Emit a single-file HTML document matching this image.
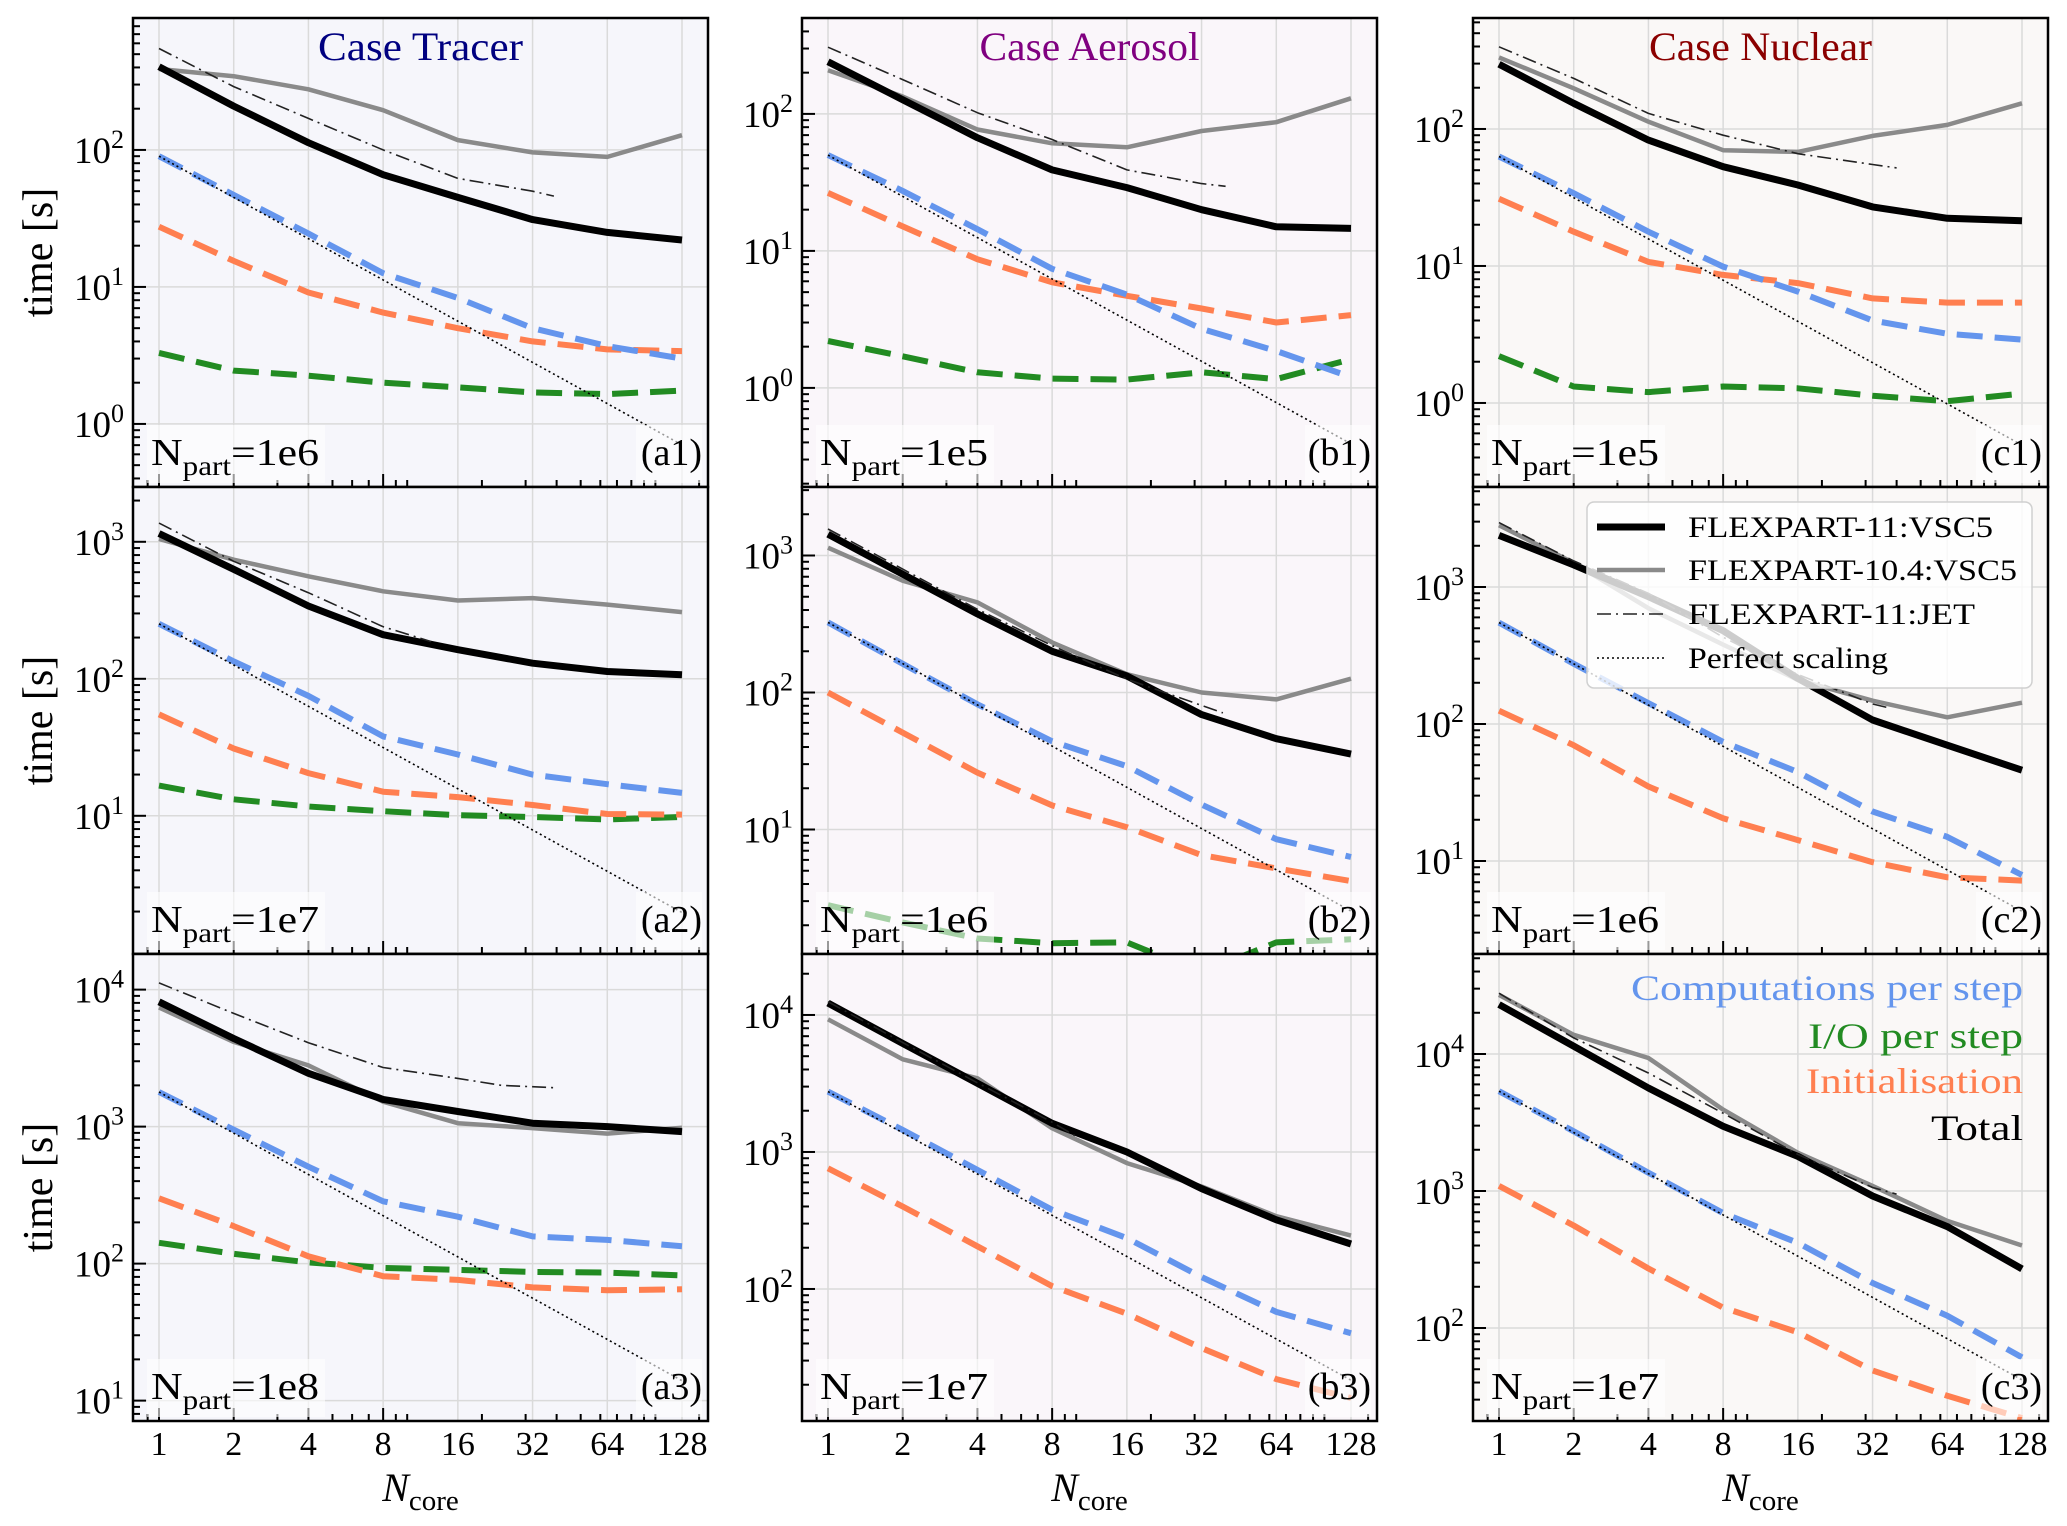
<!DOCTYPE html>
<html><head><meta charset="utf-8"><title>FLEXPART scaling</title>
<style>
html,body{margin:0;padding:0;background:#fff;}
svg{display:block;font-family:"Liberation Serif","DejaVu Serif",serif;}
</style></head>
<body>
<svg id="fig" width="2067" height="1526" viewBox="0 0 2067 1526" xmlns="http://www.w3.org/2000/svg"></svg>
<script>
// ---------- data ----------
const cores=[1,2,4,8,16,32,64,128];
const xTickLabels=["1","2","4","8","16","32","64","128"];
// a1 Tracer 1e6
const a1Total=[405,209,113,66,45,31,25,22];
const a1V104=[390,345,277,195,118,96,89,128];
const a1JetCores=[1,2,4,8,16,32,39];
const a1Jet=[550,290,170,100,62,50,46];
const a1Comp=[90,47,24.5,12.6,8.3,5.0,3.7,3.0];
const a1IO=[3.3,2.45,2.25,2.0,1.85,1.7,1.65,1.75];
const a1Init=[27.5,15.5,9.1,6.5,5.0,4.0,3.5,3.4];
// b1 Aerosol 1e5
const b1Total=[240,127,67,39,29,20,15,14.6];
const b1V104=[208,134,77,61,57,75,87,130];
const b1JetCores=[1,2,4,8,16,32,40];
const b1Jet=[307,178,102,65,39,31,29.6];
const b1Comp=[50,27.4,14.4,7.4,4.8,2.7,1.86,1.2];
const b1IO=[2.2,1.7,1.3,1.17,1.15,1.3,1.16,1.62];
const b1Init=[26.5,15.1,8.7,5.9,4.7,3.8,3.0,3.4];
// c1 Nuclear 1e5
const c1Total=[297,154,83,53,39,27,22.3,21.4];
const c1V104=[333,198,113,70,68,89,107,154];
const c1JetCores=[1,2,4,8,16,32,40];
const c1Jet=[398,234,130,90,66,55,52];
const c1Comp=[63,34,17.8,9.9,6.5,4.0,3.2,2.9];
const c1IO=[2.2,1.32,1.2,1.32,1.28,1.13,1.03,1.17];
const c1Init=[31,17.8,10.7,8.6,7.5,5.8,5.4,5.4];
// a2 Tracer 1e7
const a2Total=[1150,630,340,210,163,130,113,107];
const a2V104=[1050,740,560,435,373,388,348,307];
const a2JetCores=[1,2,4,8,12.5];
const a2Jet=[1370,720,425,240,187];
const a2Comp=[252,134,75,38,28,20,17,14.7];
const a2IO=[16.6,13.2,11.7,10.8,10.1,9.8,9.4,9.8];
const a2Init=[55,31,20.5,15,13.7,12,10.3,10.2];
// b2 Aerosol 1e6
const b2Total=[1430,730,375,200,132,69,46,35.5];
const b2V104=[1140,655,455,232,136,100,89,126];
const b2JetCores=[1,2,4,8,16,39];
const b2Jet=[1560,795,405,220,125,71];
const b2Comp=[325,162,82,44,29,15.2,8.5,6.3];
const b2IO=[2.8,2.1,1.6,1.48,1.5,0.9,1.5,1.58];
const b2Init=[100,51,26,15,10.4,6.5,5.2,4.2];
// c2 Nuclear 1e6
const c2Total=[2380,1450,850,480,215,107,70,46];
const c2V104=[2820,1500,700,380,210,148,112,143];
const c2JetCores=[1,2,4,8,16,32,38];
const c2Jet=[2950,1550,900,430,230,140,130];
const c2Comp=[550,275,142,74,44.6,23,15,7.9];
const c2IO=[1.6,1.2,1.1,1.1,1.0,1.0,0.9,0.9];
const c2Init=[125,70,35,20.5,14.2,9.8,7.6,7.2];
// a3 Tracer 1e8
const a3Total=[8150,4400,2450,1580,1290,1060,1000,920];
const a3V104=[7400,4150,2800,1520,1060,975,890,980];
const a3JetCores=[1,2,4,8,16,24,40];
const a3Jet=[11200,6700,4100,2700,2250,2000,1920];
const a3Comp=[1790,950,510,285,220,158,149,134];
const a3IO=[142,118,102,93,90,87,86,82];
const a3Init=[300,188,113,81,76,67,64,65];
// b3 Aerosol 1e7
const b3Total=[12200,6200,3170,1620,1000,540,320,213];
const b3V104=[9300,4750,3450,1490,830,560,340,245];
const b3JetCores=[1,2,4,8,10];
const b3Jet=[12500,6300,3200,1650,1300];
const b3Comp=[2760,1450,740,378,235,122,68,47.5];
const b3IO=[5,4,3.5,3,3,3,3,3];
const b3Init=[760,400,205,105,66,37,22,16];
// c3 Nuclear 1e7
const c3Total=[23000,11400,5650,2970,1790,920,550,270];
const c3V104=[27000,13800,9350,3930,1900,1090,605,400];
const c3JetCores=[1,2,4,8,16,32,40];
const c3Jet=[27800,13100,7270,3700,1850,1060,950];
const c3Comp=[5350,2730,1360,690,418,213,123,61];
const c3IO=[8,7,6,6,6,6,6,6];
const c3Init=[1090,560,272,141,93,49,32,22];

// ---------- layout ----------
const NS="http://www.w3.org/2000/svg";
const svg=document.getElementById('fig');
const colLeft=[133,802,1473], panelW=575, padX=26;
const rowTop=[18,487,954], rowBot=[487,954,1421];
const DEC=137;
const bgs=["#f6f6fb","#faf6fa","#faf8f7"];
const panels=[
 {id:'a1',c:0,r:0,lt:2.963,T:a1Total,V:a1V104,JX:a1JetCores,J:a1Jet,C:a1Comp,IO:a1IO,I:a1Init,np:'1e6'},
 {id:'b1',c:1,r:0,lt:2.70,T:b1Total,V:b1V104,JX:b1JetCores,J:b1Jet,C:b1Comp,IO:b1IO,I:b1Init,np:'1e5'},
 {id:'c1',c:2,r:0,lt:2.81,T:c1Total,V:c1V104,JX:c1JetCores,J:c1Jet,C:c1Comp,IO:c1IO,I:c1Init,np:'1e5'},
 {id:'a2',c:0,r:1,lt:3.40,T:a2Total,V:a2V104,JX:a2JetCores,J:a2Jet,C:a2Comp,IO:a2IO,I:a2Init,np:'1e7'},
 {id:'b2',c:1,r:1,lt:3.50,T:b2Total,V:b2V104,JX:b2JetCores,J:b2Jet,C:b2Comp,IO:b2IO,I:b2Init,np:'1e6'},
 {id:'c2',c:2,r:1,lt:3.73,T:c2Total,V:c2V104,JX:c2JetCores,J:c2Jet,C:c2Comp,IO:c2IO,I:c2Init,np:'1e6'},
 {id:'a3',c:0,r:2,lt:4.26,T:a3Total,V:a3V104,JX:a3JetCores,J:a3Jet,C:a3Comp,IO:a3IO,I:a3Init,np:'1e8'},
 {id:'b3',c:1,r:2,lt:4.445,T:b3Total,V:b3V104,JX:b3JetCores,J:b3Jet,C:b3Comp,IO:b3IO,I:b3Init,np:'1e7'},
 {id:'c3',c:2,r:2,lt:4.73,T:c3Total,V:c3V104,JX:c3JetCores,J:c3Jet,C:c3Comp,IO:c3IO,I:c3Init,np:'1e7'}
];
const titles=[["Case Tracer","#000080",205],["Case Aerosol","#800080",220],["Case Nuclear","#8b0000",223]];

function mk(tag,attrs,parent){const e=document.createElementNS(NS,tag);for(const k in attrs)e.setAttribute(k,attrs[k]);(parent||svg).appendChild(e);return e;}

const defs=mk('defs',{});

panels.forEach(p=>{
  const L=colLeft[p.c], R=L+panelW, T=rowTop[p.r], B=rowBot[p.r];
  const ppo=(panelW-2*padX)/7;
  const xs=v=>L+padX+Math.log2(v)*ppo;
  const ys=v=>T+(p.lt-Math.log10(v))*DEC;
  const lb=p.lt-(B-T)/DEC;
  const g=mk('g',{});
  
  
  const bg=mk('rect',{x:L,y:T,width:panelW,height:B-T,fill:bgs[p.c]},g);
  
  
  const cp=mk('clipPath',{id:'clip-'+p.id},defs);
  mk('rect',{x:L,y:T,width:panelW,height:B-T},cp);
  cores.forEach(c=>{const l=mk('line',{x1:xs(c),x2:xs(c),y1:T,y2:B,stroke:'#dadada','stroke-width':1.5},g);
    
    });
  for(let d=Math.ceil(lb);d<=Math.floor(p.lt);d++){
    const yy=ys(Math.pow(10,d));
    const l=mk('line',{x1:L,x2:R,y1:yy,y2:yy,stroke:'#dadada','stroke-width':1.5},g);
    
    
  }
  const sg=mk('g',{'clip-path':'url(#clip-'+p.id+')'},g);
  function line(xv,yv,st,name){
    const pts=xv.map((x,i)=>xs(x).toFixed(1)+','+ys(yv[i]).toFixed(1)).join(' ');
    const pl=mk('polyline',Object.assign({points:pts,fill:'none','stroke-linejoin':'round'},st),sg);
    
    
  }
  const perfect=cores.map(c=>p.C[0]/c);
  line(cores,p.IO,{stroke:'#228b22','stroke-width':6,'stroke-dasharray':'26 12'},'io-per-step-line');
  line(cores,p.I,{stroke:'#ff7f50','stroke-width':6,'stroke-dasharray':'26 12'},'initialisation-line');
  line(cores,p.C,{stroke:'#6495ed','stroke-width':6,'stroke-dasharray':'26 12'},'computation-line');
  line(cores,perfect,{stroke:'#000','stroke-width':1.6,'stroke-dasharray':'2 3'},'perfect-scaling-line');
  line(cores,p.V,{stroke:'#8a8a8a','stroke-width':4.5},'flexpart-10.4-vsc5-line');
  line(cores,p.T,{stroke:'#000','stroke-width':7},'flexpart-11-vsc5-line');
  line(p.JX,p.J,{stroke:'#222','stroke-width':1.6,'stroke-dasharray':'14 5 2 5'},'flexpart-11-jet-line');
  const xt=[0.8,0.9,1,2,3,4,5,6,7,8,9,10,20,30,40,50,60,70,80,90,100,150];
  xt.forEach(v=>{const xx=xs(v); if(xx<L+2||xx>R-2)return;
    const major=cores.indexOf(v)>=0;
    const t=mk('line',{x1:xx,x2:xx,y1:B,y2:B-(major?13:7),stroke:'#000','stroke-width':2},g);
    
    });
  for(let d=Math.floor(lb);d<=Math.ceil(p.lt);d++){
    for(let m=1;m<10;m++){
      const v=m*Math.pow(10,d), yy=ys(v);
      if(yy<T+2||yy>B-2)continue;
      const t=mk('line',{x1:L,x2:L+(m===1?13:7),y1:yy,y2:yy,stroke:'#000','stroke-width':2},g);
      
      
      if(m===1){
        const tx=mk('text',{x:L-9,y:yy+13,'text-anchor':'end','font-size':37,fill:'#000'},g);
        tx.innerHTML='10<tspan dy="-15" font-size="26">'+d+'</tspan>';
        
        
      }
    }
  }
  const fr=mk('rect',{x:L,y:T,width:panelW,height:B-T,fill:'none',stroke:'#000','stroke-width':2.5},g);
  
  
  const nbg=mk('rect',{x:L+14,y:B-62,width:178,height:58,fill:'#fff','fill-opacity':0.6},g);
  
  
  const nt=mk('text',{x:L+18,y:B-22,'font-size':38,fill:'#000',textLength:168,lengthAdjust:'spacingAndGlyphs'},g);
  nt.innerHTML='N<tspan dy="10" font-size="27">part</tspan><tspan dy="-10">=</tspan>'+p.np;
  
  
  const pbg=mk('rect',{x:R-72,y:B-62,width:66,height:58,fill:'#fff','fill-opacity':0.6},g);
  
  
  const pt=mk('text',{x:R-6,y:B-22,'text-anchor':'end','font-size':38,fill:'#000'},g);
  pt.textContent='('+p.id+')';
  
  
  if(p.r===0){
    const tt=mk('text',{x:(L+R)/2,y:60,'text-anchor':'middle','font-size':40,fill:titles[p.c][1],textLength:titles[p.c][2],lengthAdjust:'spacingAndGlyphs'},g);
    tt.textContent=titles[p.c][0];
    
    
  }
  if(p.c===0){
    const yl=mk('text',{x:0,y:0,'text-anchor':'middle','font-size':42,fill:'#000',transform:'translate(52,'+((T+B)/2)+') rotate(-90)'},g);
    yl.textContent='time [s]';
    
    
  }
  if(p.r===2){
    cores.forEach((c,i)=>{const t=mk('text',{x:xs(c),y:1455,'text-anchor':'middle','font-size':34,fill:'#000'},g);
      t.textContent=xTickLabels[i];
      
      });
    const xl=mk('text',{x:(L+R)/2,y:1501,'text-anchor':'middle','font-size':40,fill:'#000'},g);
    xl.innerHTML='<tspan font-style="italic">N</tspan><tspan dy="9" font-size="29">core</tspan>';
    
    
  }
});

// legend in c2
const lg=mk('g',{});


mk('rect',{x:1587,y:502,width:445,height:186,rx:7,fill:'#fff','fill-opacity':0.8,stroke:'#d0d0d0','stroke-width':1.5},lg);
const legItems=[["FLEXPART-11:VSC5",{stroke:'#000','stroke-width':7},305],["FLEXPART-10.4:VSC5",{stroke:'#8a8a8a','stroke-width':4.5},329],["FLEXPART-11:JET",{stroke:'#222','stroke-width':1.6,'stroke-dasharray':'14 5 2 5'},287],["Perfect scaling",{stroke:'#000','stroke-width':1.6,'stroke-dasharray':'2 3'},200]];
const legY=[527,570,614,658];
legItems.forEach((it,i)=>{
  const e=mk('g',{},lg);
  
  
  mk('line',Object.assign({x1:1597,x2:1665,y1:legY[i],y2:legY[i]},it[1]),e);
  const t=mk('text',{x:1688,y:legY[i]+10,'font-size':30,fill:'#000',textLength:it[2],lengthAdjust:'spacingAndGlyphs'},e);
  t.textContent=it[0];
});
// colour legend in c3
const cl=[["Computations per step","#6495ed",1000,392],["I/O per step","#228b22",1048,215],["Initialisation","#ff7f50",1093,217],["Total","#000",1140,92]];
cl.forEach(c=>{
  const t=mk('text',{x:2023,y:c[2],'text-anchor':'end','font-size':36,fill:c[1],textLength:c[3],lengthAdjust:'spacingAndGlyphs'});
  t.textContent=c[0];
  
  
});
</script>
</body></html>
